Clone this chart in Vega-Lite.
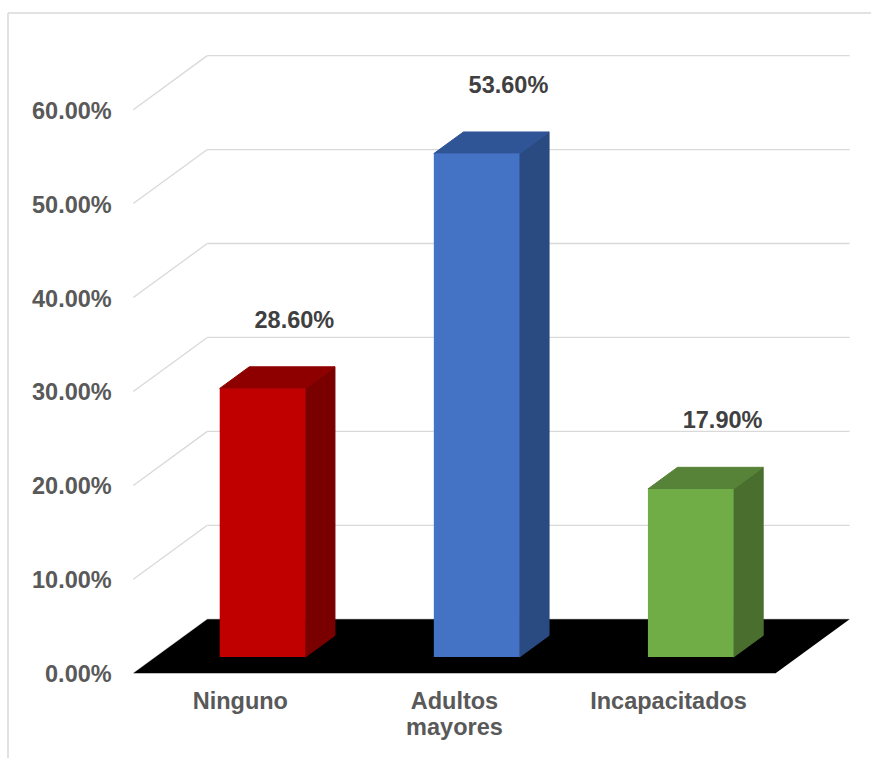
{
  "$schema": "https://vega.github.io/schema/vega-lite/v6.json",
  "autosize": {"type": "none"},
  "padding": {"left": 8, "top": 13, "right": 0, "bottom": 0},
  "width": 863,
  "height": 745,
  "background": "white",
  "config": {"view": {"stroke": null}, "font": "Liberation Sans"},
  "params": [
    {"name": "dX", "value": 0.3456},
    {"name": "dY", "value": 0.0575}
  ],
  "datasets": {
    "grupos": [
      {"categoria": "Ninguno", "porcentaje": 0.286},
      {"categoria": "Adultos mayores", "porcentaje": 0.536},
      {"categoria": "Incapacitados", "porcentaje": 0.179}
    ],
    "rejilla": [
      {"v": 0}, {"v": 0.1}, {"v": 0.2}, {"v": 0.3}, {"v": 0.4}, {"v": 0.5}, {"v": 0.6}
    ]
  },
  "resolve": {"scale": {"color": "independent", "stroke": "independent"}},
  "layer": [
    {
      "data": {"name": "rejilla"},
      "transform": [
        {"calculate": "0", "as": "xa"},
        {"calculate": "dX", "as": "xb"},
        {"calculate": "datum.v + dY", "as": "vb"}
      ],
      "mark": {"type": "rule", "color": "#d9d9d9", "strokeWidth": 1.3},
      "encoding": {
        "x": {
          "field": "xa", "type": "quantitative", "axis": null,
          "scale": {"domain": [-0.5852, 3.4456], "nice": false, "zero": false}
        },
        "x2": {"field": "xb"},
        "y": {
          "field": "v", "type": "quantitative", "axis": null,
          "scale": {"domain": [-0.0902, 0.7029], "nice": false, "zero": false}
        },
        "y2": {"field": "vb"}
      }
    },
    {
      "data": {"name": "rejilla"},
      "transform": [
        {"calculate": "dX", "as": "xa"},
        {"calculate": "3 + dX", "as": "xb"},
        {"calculate": "datum.v + dY", "as": "vb"}
      ],
      "mark": {"type": "rule", "color": "#d9d9d9", "strokeWidth": 1.3},
      "encoding": {
        "x": {"field": "xa", "type": "quantitative", "axis": null},
        "x2": {"field": "xb"},
        "y": {"field": "vb", "type": "quantitative", "axis": null}
      }
    },
    {
      "data": {"name": "grupos"},
      "transform": [{"aggregate": [{"op": "count", "as": "n"}]}],
      "mark": {"type": "rule", "color": "#d9d9d9", "strokeWidth": 1.5},
      "encoding": {
        "x": {"datum": -0.5852, "type": "quantitative", "axis": null},
        "y": {"datum": 0.7029, "type": "quantitative", "axis": null},
        "y2": {"datum": -0.0902}
      }
    },
    {
      "data": {"name": "grupos"},
      "transform": [{"aggregate": [{"op": "count", "as": "n"}]}],
      "mark": {"type": "rule", "color": "#d9d9d9", "strokeWidth": 1.5},
      "encoding": {
        "y": {"datum": 0.7029, "type": "quantitative", "axis": null},
        "x": {"datum": -0.5852, "type": "quantitative", "axis": null},
        "x2": {"datum": 3.4456}
      }
    },
    {
      "data": {"name": "rejilla"},
      "transform": [{"calculate": "0", "as": "xa"}],
      "mark": {"type": "text", "align": "right", "baseline": "middle", "dx": -21.6, "dy": 2,
               "font": "Liberation Sans", "fontSize": 23.5, "fontWeight": "bold", "color": "#595959"},
      "encoding": {
        "x": {"field": "xa", "type": "quantitative", "axis": null},
        "y": {"field": "v", "type": "quantitative", "axis": null},
        "text": {"field": "v", "type": "quantitative", "format": ".2%"}
      }
    },
    {
      "data": {"name": "grupos"},
      "transform": [
        {"aggregate": [{"op": "count", "as": "n"}]},
        {"calculate": "0", "as": "frente"},
        {"calculate": "1", "as": "fondo"},
        {"fold": ["frente", "fondo"], "as": ["borde", "p"]},
        {"calculate": "datum.p * dX", "as": "xa"},
        {"calculate": "datum.n + datum.p * dX", "as": "xb"},
        {"calculate": "datum.p * dY", "as": "yf"}
      ],
      "mark": {"type": "area", "orient": "horizontal", "color": "#000000"},
      "encoding": {
        "y": {"field": "yf", "type": "quantitative", "axis": null},
        "x": {"field": "xa", "type": "quantitative", "axis": null, "stack": null},
        "x2": {"field": "xb"}
      }
    },
    {
      "data": {"name": "grupos"},
      "transform": [
        {"window": [{"op": "row_number", "as": "rn"}]},
        {"calculate": "datum.rn - 1", "as": "i"},
        {"calculate": "0.3", "as": "delante"},
        {"calculate": "0.7", "as": "detras"},
        {"fold": ["delante", "detras"], "as": ["cara", "p"]},
        {"calculate": "datum.i + 0.7 + datum.p * dX", "as": "xa"},
        {"calculate": "datum.porcentaje + datum.p * dY", "as": "ya"},
        {"calculate": "datum.p * dY", "as": "yb"}
      ],
      "mark": {"type": "area", "orient": "vertical", "strokeWidth": 1},
      "encoding": {
        "x": {"field": "xa", "type": "quantitative", "axis": null},
        "y": {"field": "ya", "type": "quantitative", "axis": null, "stack": null},
        "y2": {"field": "yb"},
        "color": {
          "field": "categoria", "type": "nominal", "legend": null,
          "scale": {"domain": ["Ninguno", "Adultos mayores", "Incapacitados"],
                    "range": ["#7a0000", "#2a4a82", "#4a6e2e"]}
        },
        "stroke": {
          "field": "categoria", "type": "nominal", "legend": null,
          "scale": {"domain": ["Ninguno", "Adultos mayores", "Incapacitados"],
                    "range": ["#7a0000", "#2a4a82", "#4a6e2e"]}
        }
      }
    },
    {
      "data": {"name": "grupos"},
      "transform": [
        {"window": [{"op": "row_number", "as": "rn"}]},
        {"calculate": "datum.rn - 1", "as": "i"},
        {"calculate": "0.3", "as": "delante"},
        {"calculate": "0.7", "as": "detras"},
        {"fold": ["delante", "detras"], "as": ["cara", "p"]},
        {"calculate": "datum.i + 0.3 + datum.p * dX", "as": "xa"},
        {"calculate": "datum.i + 0.7 + datum.p * dX", "as": "xb"},
        {"calculate": "datum.porcentaje + datum.p * dY", "as": "ya"}
      ],
      "mark": {"type": "area", "orient": "horizontal", "strokeWidth": 1},
      "encoding": {
        "y": {"field": "ya", "type": "quantitative", "axis": null},
        "x": {"field": "xa", "type": "quantitative", "axis": null, "stack": null},
        "x2": {"field": "xb"},
        "color": {
          "field": "categoria", "type": "nominal", "legend": null,
          "scale": {"domain": ["Ninguno", "Adultos mayores", "Incapacitados"],
                    "range": ["#8e0000", "#2f5597", "#568337"]}
        },
        "stroke": {
          "field": "categoria", "type": "nominal", "legend": null,
          "scale": {"domain": ["Ninguno", "Adultos mayores", "Incapacitados"],
                    "range": ["#8e0000", "#2f5597", "#568337"]}
        }
      }
    },
    {
      "data": {"name": "grupos"},
      "transform": [
        {"window": [{"op": "row_number", "as": "rn"}]},
        {"calculate": "datum.rn - 1", "as": "i"},
        {"calculate": "datum.i + 0.3 + 0.3 * dX", "as": "xa"},
        {"calculate": "datum.i + 0.7 + 0.3 * dX", "as": "xb"},
        {"calculate": "datum.porcentaje + 0.3 * dY", "as": "ya"},
        {"calculate": "0.3 * dY", "as": "yb"}
      ],
      "mark": {"type": "rect"},
      "encoding": {
        "x": {"field": "xa", "type": "quantitative", "axis": null},
        "x2": {"field": "xb"},
        "y": {"field": "ya", "type": "quantitative", "axis": null},
        "y2": {"field": "yb"},
        "color": {
          "field": "categoria", "type": "nominal", "legend": null,
          "scale": {"domain": ["Ninguno", "Adultos mayores", "Incapacitados"],
                    "range": ["#c00000", "#4472c4", "#70ad47"]}
        }
      }
    },
    {
      "data": {"name": "grupos"},
      "transform": [
        {"window": [{"op": "row_number", "as": "rn"}]},
        {"calculate": "datum.rn - 1", "as": "i"},
        {"calculate": "datum.i + 0.5 + 0.73 * dX", "as": "xa"},
        {"calculate": "datum.porcentaje + 0.7 * dY", "as": "ya"}
      ],
      "mark": {"type": "text", "align": "center", "baseline": "alphabetic", "dy": -39,
               "font": "Liberation Sans", "fontSize": 23.5, "fontWeight": "bold", "color": "#404040"},
      "encoding": {
        "x": {"field": "xa", "type": "quantitative", "axis": null},
        "y": {"field": "ya", "type": "quantitative", "axis": null},
        "text": {"field": "porcentaje", "type": "quantitative", "format": ".2%"}
      }
    },
    {
      "data": {"name": "grupos"},
      "transform": [
        {"window": [{"op": "row_number", "as": "rn"}]},
        {"calculate": "datum.rn - 0.5", "as": "xa"}
      ],
      "mark": {"type": "text", "align": "center", "baseline": "alphabetic", "dy": 36,
               "lineBreak": " ", "lineHeight": 26,
               "font": "Liberation Sans", "fontSize": 23.5, "fontWeight": "bold", "color": "#595959"},
      "encoding": {
        "x": {"field": "xa", "type": "quantitative", "axis": null},
        "y": {"datum": 0, "type": "quantitative", "axis": null},
        "text": {"field": "categoria", "type": "nominal"}
      }
    }
  ]
}
